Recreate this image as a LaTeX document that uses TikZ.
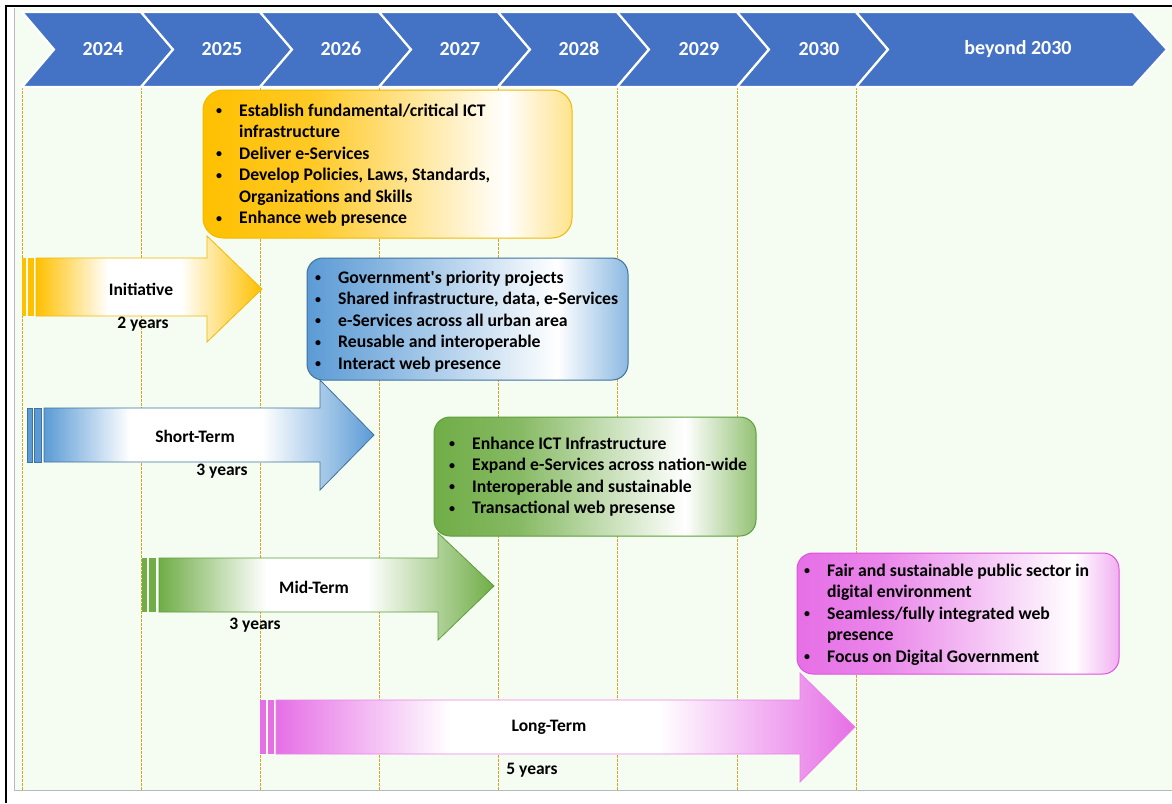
\documentclass[tikz,border=0pt]{standalone}
\usepackage{fontspec}
\setmainfont{Carlito}
\definecolor{chev}{HTML}{4472C4}
\definecolor{bgc}{HTML}{F5FDF2}
\definecolor{dashc}{HTML}{D4A52A}
\definecolor{ocol}{HTML}{FFC000}
\definecolor{oline}{HTML}{F2B800}
\definecolor{bcol}{HTML}{5B9BD5}
\definecolor{bline}{HTML}{41719C}
\definecolor{gcol}{HTML}{70AD47}
\definecolor{gline}{HTML}{5E9E3A}
\definecolor{pcol}{HTML}{E66FE6}
\definecolor{pline}{HTML}{E050E0}
\pgfdeclarehorizontalshading{arrO}{100bp}{color(0bp)=(ocol); color(25bp)=(ocol); color(41bp)=(white); color(57bp)=(white); color(75bp)=(ocol); color(100bp)=(ocol)}
\pgfdeclarehorizontalshading{arrB}{100bp}{color(0bp)=(bcol); color(25bp)=(bcol); color(38bp)=(white); color(58bp)=(white); color(75bp)=(bcol); color(100bp)=(bcol)}
\pgfdeclarehorizontalshading{arrG}{100bp}{color(0bp)=(gcol); color(25bp)=(gcol); color(41bp)=(white); color(56bp)=(white); color(75bp)=(gcol); color(100bp)=(gcol)}
\pgfdeclarehorizontalshading{arrP}{100bp}{color(0bp)=(pcol); color(25bp)=(pcol); color(40bp)=(white); color(58bp)=(white); color(75bp)=(pcol); color(100bp)=(pcol)}
\pgfdeclarehorizontalshading{boxO}{100bp}{color(0bp)=(ocol); color(25bp)=(ocol); color(40bp)=(ocol!85); color(66bp)=(white); color(75bp)=(ocol!45); color(100bp)=(ocol!45)}
\pgfdeclarehorizontalshading{boxB}{100bp}{color(0bp)=(bcol); color(25bp)=(bcol); color(36bp)=(bcol!75); color(64bp)=(white); color(75bp)=(bcol!70); color(100bp)=(bcol!70)}
\pgfdeclarehorizontalshading{boxG}{100bp}{color(0bp)=(gcol); color(25bp)=(gcol); color(38bp)=(gcol!85); color(64bp)=(white); color(75bp)=(gcol!75); color(100bp)=(gcol!75)}
\pgfdeclarehorizontalshading{boxP}{100bp}{color(0bp)=(pcol); color(25bp)=(pcol); color(38bp)=(pcol!85); color(68bp)=(white); color(75bp)=(pcol!55); color(100bp)=(pcol!55)}
\newcommand\bb{\makebox[23pt][l]{\raisebox{1.5pt}{\fontsize{12}{12}\selectfont\textbullet}}}
\newcommand\nb{\makebox[23pt][l]{}}
\tikzset{
  yeartxt/.style={text=white, font=\fontsize{20}{22}\selectfont\bfseries, inner sep=0},
  lbl/.style={text=black, font=\fontsize{17.5}{21}\selectfont\bfseries, inner sep=0},
  listtxt/.style={text=black, font=\fontsize{17.7}{21.5}\selectfont\bfseries, inner sep=0, anchor=base west},
  vline/.style={dashc, line width=0.9pt, dash pattern=on 2.5pt off 1.5pt},
  chevshape/.style={fill=chev, draw=white, line width=2.2pt, line join=miter}
}
\begin{document}
\begin{tikzpicture}[x=1pt, y=-1pt]
\useasboundingbox (0,0) rectangle (1172,803);
\fill[white] (0,0) rectangle (1172,803);
\fill[bgc] (14,8) rectangle (1172,790);
\draw[gray!55, line width=1pt] (14,8) -- (14,790) -- (1172,790);
\draw[black, line width=2pt] (5,6) -- (1172,6);
\draw[black, line width=2pt] (6,5) -- (6,803);

% vertical dashed lines
\foreach \xx in {22,141,260,379,498,617,737,856} {
  \draw[vline] (\xx,87) -- (\xx,790);
}

% chevrons
\foreach \a/\b in {22/141,141/260,260/379,379/498,498/617,617/737,737/856} {
  \path[chevshape] (\a,12) -- (\b,12) -- (\b+32,49.5) -- (\b,87) -- (\a,87) -- (\a+32,49.5) -- cycle;
}
\path[chevshape] (856,12) -- (1133,12) -- (1167,49.5) -- (1133,87) -- (856,87) -- (888,49.5) -- cycle;
\node[yeartxt] (y24) at (103,49) {2024};
\node[yeartxt] (y25) at (222,49) {2025};
\node[yeartxt] (y26) at (341,49) {2026};
\node[yeartxt] (y27) at (460,49) {2027};
\node[yeartxt] (y28) at (579,49) {2028};
\node[yeartxt] (y29) at (699,49) {2029};
\node[yeartxt] (y30) at (819,49) {2030};
\node[yeartxt] (ybeyond) at (1018,49) {beyond 2030};

% ---------- Initiative arrow
\path[shading=arrO, draw=oline, line width=0.8pt] (36,258) -- (207,258) -- (207,236) -- (262,289) -- (207,342) -- (207,316) -- (36,316) -- cycle;
\fill[ocol] (22,258) rectangle (26,316);
\fill[ocol] (28,258) rectangle (34,316);
\node[lbl] (initlbl) at (141,289) {Initiative};
\node[lbl] (inityrs) at (143,324) {2 years};

% ---------- Short-Term arrow
\path[shading=arrB, draw=bline, line width=0.8pt] (44,408) -- (320,408) -- (320,380) -- (374,435) -- (320,490) -- (320,462) -- (44,462) -- cycle;
\filldraw[fill=bcol, draw=bline, line width=0.5pt] (27,408) rectangle (32,462);
\filldraw[fill=bcol, draw=bline, line width=0.5pt] (34,408) rectangle (41,462);
\node[lbl] (shortlbl) at (195,436) {Short-Term};
\node[lbl] (shortyrs) at (222,471) {3 years};

% ---------- Mid-Term arrow
\path[shading=arrG, draw=gline, line width=0.8pt] (159,558) -- (438,558) -- (438,533) -- (494,586) -- (438,640) -- (438,612) -- (159,612) -- cycle;
\fill[gcol] (142,558) rectangle (147,612);
\fill[gcol] (149,558) rectangle (156,612);
\node[lbl] (midlbl) at (314,587) {Mid-Term};
\node[lbl] (midyrs) at (255,625) {3 years};

% ---------- Long-Term arrow
\path[shading=arrP, draw=pline!70, line width=0.8pt] (276,700) -- (800,700) -- (800,673) -- (855,727) -- (800,782) -- (800,754) -- (276,754) -- cycle;
\fill[pcol] (260,700) rectangle (266,754);
\fill[pcol] (268,700) rectangle (274,754);
\node[lbl] (longlbl) at (549,727) {Long-Term};
\node[lbl] (longyrs) at (532,770) {5 years};

% ---------- Boxes
\path[shading=boxO, draw=oline, line width=1pt, rounded corners=20pt] (203,90) rectangle (572,238);
\node[listtxt] (olist) at (216,116) {\begin{tabular}[t]{@{}l@{}}
\bb Establish fundamental/critical ICT\\
\nb infrastructure\\
\bb Deliver e-Services\\
\bb Develop Policies, Laws, Standards,\\
\nb Organizations and Skills\\
\bb Enhance web presence
\end{tabular}};

\path[shading=boxB, draw=bline, line width=1pt, rounded corners=16pt] (307,258) rectangle (628,380);
\node[listtxt] (blist) at (315,283) {\begin{tabular}[t]{@{}l@{}}
\bb Government\textquotesingle s priority projects\\
\bb Shared infrastructure, data, e-Services\\
\bb e-Services across all urban area\\
\bb Reusable and interoperable\\
\bb Interact web presence
\end{tabular}};

\path[shading=boxG, draw=gline, line width=1pt, rounded corners=16pt] (434,417) rectangle (756,536);
\node[listtxt] (glist) at (449,449) {\begin{tabular}[t]{@{}l@{}}
\bb Enhance ICT Infrastructure\\
\bb Expand e-Services across nation-wide\\
\bb Interoperable and sustainable\\
\bb Transactional web presense
\end{tabular}};

\path[shading=boxP, draw=pline, line width=1pt, rounded corners=16pt] (797,553) rectangle (1119,674);
\node[listtxt] (plist) at (804,576) {\begin{tabular}[t]{@{}l@{}}
\bb Fair and sustainable public sector in\\
\nb digital environment\\
\bb Seamless/fully integrated web\\
\nb presence\\
\bb Focus on Digital Government
\end{tabular}};
\end{tikzpicture}
\end{document}
